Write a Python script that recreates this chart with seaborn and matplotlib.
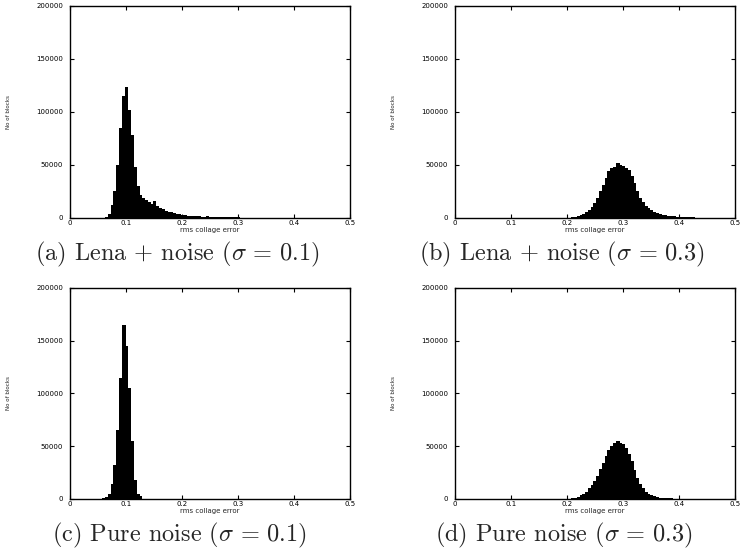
import matplotlib
matplotlib.use("Agg")
import matplotlib.pyplot as plt
import numpy as np
import pandas as pd
import seaborn as sns

# histogram bins: centre of each 0.005-wide bin and the block count
BIN_W = 0.005

lena_01_centre = [0.065, 0.070, 0.075, 0.080, 0.085, 0.090, 0.095, 0.100, 0.105, 0.110,
                  0.115, 0.120, 0.125, 0.130, 0.135, 0.140, 0.145, 0.150, 0.155, 0.160,
                  0.165, 0.170, 0.175, 0.180, 0.185, 0.190, 0.195, 0.200, 0.205, 0.210,
                  0.215, 0.220, 0.225, 0.230, 0.235, 0.240, 0.245, 0.250, 0.255, 0.260,
                  0.265, 0.270, 0.275, 0.280, 0.285, 0.290, 0.295, 0.300, 0.305, 0.310,
                  0.315, 0.320, 0.325, 0.330, 0.335, 0.340]
lena_01_count = [1000, 4000, 12000, 25000, 50000, 85000, 115000, 124000, 102000, 78000,
                 48000, 30000, 22000, 19000, 17000, 15000, 13500, 16000, 11000, 9000,
                 8000, 7000, 6000, 5200, 4800, 4000, 3500, 3000, 2600, 2300,
                 2000, 1800, 1600, 1400, 1300, 1200, 1700, 1000, 900, 800,
                 750, 700, 650, 600, 550, 500, 500, 700, 400, 350,
                 300, 250, 200, 200, 150, 100]

lena_03_centre = [0.195, 0.200, 0.205, 0.210, 0.215, 0.220, 0.225, 0.230, 0.235, 0.240,
                  0.245, 0.250, 0.255, 0.260, 0.265, 0.270, 0.275, 0.280, 0.285, 0.290,
                  0.295, 0.300, 0.305, 0.310, 0.315, 0.320, 0.325, 0.330, 0.335, 0.340,
                  0.345, 0.350, 0.355, 0.360, 0.365, 0.370, 0.375, 0.380, 0.385, 0.390,
                  0.395, 0.400, 0.405, 0.410, 0.415, 0.420, 0.425, 0.430, 0.435, 0.440,
                  0.445, 0.450, 0.455]
lena_03_count = [300, 400, 300, 700, 1200, 2000, 3000, 4000, 5500, 7500,
                 10000, 14000, 19000, 25000, 31000, 38000, 44000, 47000, 48500, 52000,
                 50000, 49000, 47500, 45000, 40000, 33000, 25000, 19000, 15000, 11000,
                 9500, 7500, 6000, 4500, 3800, 3000, 2500, 2200, 1800, 1500,
                 1200, 1000, 800, 700, 600, 500, 450, 400, 350, 300,
                 300, 250, 200]

noise_01_centre = [0.060, 0.065, 0.070, 0.075, 0.080, 0.085, 0.090, 0.095, 0.100, 0.105,
                   0.110, 0.115, 0.120, 0.125, 0.130]
noise_01_count = [800, 1500, 5000, 14000, 32000, 65000, 115000, 165000, 145000, 105000,
                  55000, 18000, 5000, 2500, 300]

noise_03_centre = [0.195, 0.200, 0.205, 0.210, 0.215, 0.220, 0.225, 0.230, 0.235, 0.240,
                   0.245, 0.250, 0.255, 0.260, 0.265, 0.270, 0.275, 0.280, 0.285, 0.290,
                   0.295, 0.300, 0.305, 0.310, 0.315, 0.320, 0.325, 0.330, 0.335, 0.340,
                   0.345, 0.350, 0.355, 0.360, 0.365, 0.370, 0.375, 0.380, 0.385, 0.390,
                   0.395, 0.400]
noise_03_count = [300, 400, 300, 600, 1200, 2000, 3500, 5000, 7000, 10000,
                  13500, 17000, 22000, 28000, 34000, 41000, 46000, 50000, 53000, 55000,
                  53000, 52000, 48000, 43000, 36000, 27000, 20000, 14000, 10000, 7000,
                  5000, 3500, 2500, 1800, 1300, 900, 700, 600, 500, 400,
                  300, 200]

captions = [r"(a) Lena + noise ($\sigma\,=\,0.1$)",
            r"(b) Lena + noise ($\sigma\,=\,0.3$)",
            r"(c) Pure noise ($\sigma\,=\,0.1$)",
            r"(d) Pure noise ($\sigma\,=\,0.3$)"]
x_ticks = [0, 0.1, 0.2, 0.3, 0.4, 0.5]
x_ticklabels = ["0", "0.1", "0.2", "0.3", "0.4", "0.5"]
y_ticks = [0, 50000, 100000, 150000, 200000]

sns.set_style("ticks")
plt.rcParams["mathtext.fontset"] = "cm"
plt.rcParams["axes.unicode_minus"] = False

fig = plt.figure(figsize=(7.40, 5.51), dpi=100)

# axes boxes in figure fractions: left, bottom, width, height
boxes = [[0.0946, 0.6044, 0.378, 0.3848],
         [0.6149, 0.6044, 0.378, 0.3848],
         [0.0946, 0.0944, 0.378, 0.3830],
         [0.6149, 0.0944, 0.378, 0.3830]]
panels = [(lena_01_centre, lena_01_count), (lena_03_centre, lena_03_count),
          (noise_01_centre, noise_01_count), (noise_03_centre, noise_03_count)]
caption_pos = [(0.239, 0.527), (0.760, 0.527), (0.243, 0.017), (0.762, 0.017)]

for box, (centre, count), cap, cpos in zip(boxes, panels, captions, caption_pos):
    ax = fig.add_axes(box)
    df = pd.DataFrame({"err": centre, "n": count})
    sns.histplot(data=df, x="err", weights="n", binwidth=BIN_W,
                 binrange=(centre[0] - BIN_W / 2, centre[-1] + BIN_W / 2),
                 element="bars", fill=True, color="black", edgecolor="black",
                 alpha=1, linewidth=0.5, antialiased=False, ax=ax)
    ax.set_xlim(0, 0.5)
    ax.set_ylim(0, 200000)
    ax.set_xticks(x_ticks)
    ax.set_xticklabels(x_ticklabels)
    ax.set_yticks(y_ticks)
    ax.set_yticklabels([str(v) for v in y_ticks])
    ax.tick_params(direction="in", length=3, width=0.8, labelsize=5,
                   top=True, right=True, pad=5, colors="black")
    ax.tick_params(axis="x", pad=1.5)
    for s in ax.spines.values():
        s.set_visible(True)
        s.set_linewidth(1.0)
        s.set_color("black")
    ax.set_xlabel("rms collage error", fontsize=5, labelpad=0.5)
    ax.set_ylabel("No of blocks", fontsize=4.5, fontstretch="condensed")
    ax.yaxis.set_label_coords(-0.21, 0.5)
    fig.text(cpos[0], cpos[1], cap, ha="center", va="baseline",
             fontsize=17.5, family="cmr10")

fig.savefig("out.png", dpi=100)
